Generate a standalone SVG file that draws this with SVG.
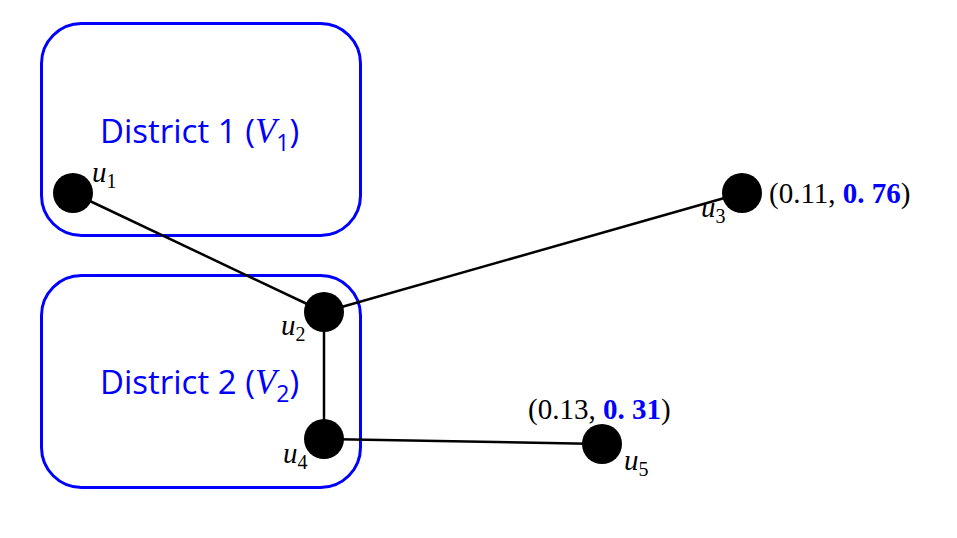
<svg xmlns="http://www.w3.org/2000/svg" width="957" height="538" viewBox="0 0 957 538">
<style>
.box{fill:none;stroke:#0000ff;stroke-width:3}
.dist{font-family:"Open Sans","Liberation Sans",sans-serif;font-size:33px;fill:#0000ff}
.mi{font-family:"Liberation Serif",serif;font-style:italic}
.lbl{font-family:"Liberation Serif",serif;font-style:italic;font-size:29px;fill:#000}
.sub{font-style:normal;font-size:20px}
.node{fill:#000}
.edge{stroke:#000;stroke-width:2.5;fill:none}
.coord{font-family:"Liberation Serif",serif;font-size:29px;fill:#000}
.b{font-weight:bold;fill:#0000ff}
</style>
<rect width="957" height="538" fill="#fff"/>
<g id="district1">
<rect class="box" x="41.5" y="23.5" width="319" height="212" rx="40"/>
<text class="dist" x="100" y="143">District 1 (<tspan class="mi" font-size="35">V</tspan><tspan font-size="23" dy="8">1</tspan><tspan dy="-8">)</tspan></text>
</g>
<g id="district2">
<rect class="box" x="41.5" y="275.5" width="319" height="212" rx="40"/>
<text class="dist" x="100" y="394">District 2 (<tspan class="mi" font-size="35">V</tspan><tspan font-size="23" dy="8">2</tspan><tspan dy="-8">)</tspan></text>
</g>
<g id="connectors">
<line class="edge" x1="73" y1="193" x2="324" y2="312"/>
<line class="edge" x1="324" y1="312" x2="742" y2="193"/>
<line class="edge" x1="324" y1="312" x2="324" y2="439"/>
<line class="edge" x1="324" y1="439" x2="602" y2="444"/>
</g>
<g id="u1">
<circle class="node" cx="73" cy="193" r="20"/>
<text class="lbl" x="92" y="182">u<tspan class="sub" dy="6">1</tspan></text>
</g>
<g id="u2">
<circle class="node" cx="324" cy="312" r="20"/>
<text class="lbl" x="281" y="335">u<tspan class="sub" dy="6">2</tspan></text>
</g>
<g id="u3">
<circle class="node" cx="742" cy="193" r="20"/>
<text class="lbl" x="701" y="217">u<tspan class="sub" dy="6">3</tspan></text>
<text class="coord" x="769" y="203">(0.11, <tspan class="b">0. 76</tspan>)</text>
</g>
<g id="u4">
<circle class="node" cx="324" cy="439" r="20"/>
<text class="lbl" x="283" y="463">u<tspan class="sub" dy="6">4</tspan></text>
</g>
<g id="u5">
<circle class="node" cx="602" cy="444" r="20"/>
<text class="lbl" x="624" y="470">u<tspan class="sub" dy="6">5</tspan></text>
<text class="coord" x="528" y="419">(0.13, <tspan class="b">0. 31</tspan>)</text>
</g>
</svg>
